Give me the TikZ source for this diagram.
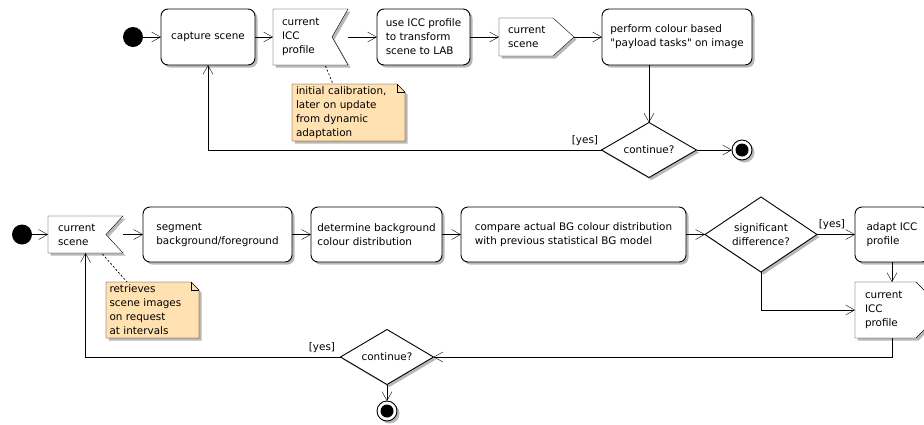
\documentclass[tikz,border=0pt]{standalone}
\usepackage{fontspec}
\setmainfont{DejaVu Sans}[Ligatures=TeXOff]
\usetikzlibrary{arrows.meta,calc,shadows,shapes.geometric}
\definecolor{notefill}{HTML}{FFE1B2}
\pgfdeclarelayer{background}
\pgfsetlayers{background,main}
\begin{document}
\begin{tikzpicture}[x=1pt,y=-1pt,
  font=\fontsize{10.4}{14}\selectfont,
  line width=0.9pt,
  every node/.style={inner sep=0pt, outer sep=0pt, align=left},
  shad/.style={drop shadow={shadow xshift=2.5pt, shadow yshift=-2.5pt, fill=black!28, opacity=1}},
  act/.style={draw=black, rounded corners=7pt, fill=white, shad},
  frame/.style={draw=none, rectangle},
  poly/.style={draw=black, fill=white, shad, line join=miter},
  notepoly/.style={draw=black, fill=notefill, shad, line join=miter},
  dec/.style={diamond, aspect=1.5, draw=black, fill=white, shad, align=center},
  startdot/.style={circle, fill=black, minimum size=20pt},
  enddot/.style={circle, draw=black, fill=white, minimum size=20pt, shad,
    path picture={\fill[black] (path picture bounding box.center) circle (6.5pt);}},
  flow/.style={-{Straight Barb[length=9pt,width=10pt]}},
  notelink/.style={dash pattern=on 2pt off 2pt, line width=0.7pt},
  guard/.style={font=\fontsize{10.4}{14}\selectfont}
]
\useasboundingbox (0,0) rectangle (924,424);

% ---------- top activity ----------
\node[startdot] (start1) at (133,37) {};
\node[act, minimum width=94pt, minimum height=56pt] (capture) at (208,37) {capture scene};
\node[frame, minimum width=75pt, minimum height=56pt, text width=57pt] (icc1) at (310.5,37) {current\\ICC\\profile};
\node[act, minimum width=93pt, minimum height=56pt] (use) at (423.5,37) {use ICC profile\\to transform\\scene to LAB};
\node[frame, minimum width=75pt, minimum height=38pt, text width=57pt] (scene1) at (536.5,37) {current\\scene};
\node[act, minimum width=150pt, minimum height=56pt] (perform) at (677,37) {perform colour based\\"payload tasks" on image};
\node[dec, minimum width=95pt, minimum height=55pt] (cont1) at (649,150) {continue?};
\node[enddot] (end1) at (742,150) {};
\node[frame, minimum width=113pt, minimum height=57pt, text width=105pt] (note1) at (348.5,112.5) {initial calibration,\\later on update\\from dynamic\\adaptation};
\node[guard, anchor=base east] (yes1) at (598,143) {[yes]};

% ---------- bottom activity ----------
\node[startdot] (start2) at (22,234.5) {};
\node[frame, minimum width=75pt, minimum height=37pt, text width=55pt] (scene2) at (85.5,234.5) {current\\scene};
\node[act, minimum width=149pt, minimum height=55pt] (segment) at (217.5,234.5) {segment\\background/foreground};
\node[act, minimum width=131pt, minimum height=55pt] (determine) at (376.5,234.5) {determine background\\colour distribution};
\node[act, minimum width=225pt, minimum height=55pt] (compare) at (573.5,234.5) {compare actual BG colour distribution\\with previous statistical BG model};
\node[dec, minimum width=112pt, minimum height=75pt] (signif) at (761,234.5) {significant\\difference?};
\node[act, minimum width=74pt, minimum height=55pt] (adapt) at (892,234.5) {adapt ICC\\profile};
\node[frame, minimum width=89pt, minimum height=56pt, text width=69pt] (icc2) at (899.5,310) {current\\ICC\\profile};
\node[dec, minimum width=93pt, minimum height=55pt] (cont2) at (387,357) {continue?};
\node[enddot] (end2) at (387,411) {};
\node[frame, minimum width=93pt, minimum height=56pt, text width=86pt] (note2) at (152.5,310) {retrieves\\scene images\\on request\\at intervals};
\node[guard, anchor=base east] (yes2) at (335,350) {[yes]};
\node[guard, anchor=base east] (yes3) at (845,227) {[yes]};

% ---------- object and note outlines ----------
\begin{pgfonlayer}{background}
  \draw[poly] (icc1.north west) -- (icc1.north east) -- ($(icc1.east)+(-16,0)$) -- (icc1.south east) -- (icc1.south west) -- cycle;
  \draw[poly] (scene1.north west) -- ($(scene1.north east)+(-21,0)$) -- (scene1.east) -- ($(scene1.south east)+(-21,0)$) -- (scene1.south west) -- cycle;
  \draw[poly] (scene2.north west) -- (scene2.north east) -- ($(scene2.east)+(-17,0)$) -- (scene2.south east) -- (scene2.south west) -- cycle;
  \draw[poly] (icc2.north west) -- ($(icc2.north east)+(-28,0)$) -- (icc2.east) -- ($(icc2.south east)+(-28,0)$) -- (icc2.south west) -- cycle;
  \draw[notepoly] (note1.north west) -- ($(note1.north east)+(-8,0)$) -- ($(note1.north east)+(0,8)$) -- (note1.south east) -- (note1.south west) -- cycle;
  \draw[line width=0.7pt] ($(note1.north east)+(-8,0)$) -- ($(note1.north east)+(-8,8)$) -- ($(note1.north east)+(0,8)$);
  \draw[notepoly] (note2.north west) -- ($(note2.north east)+(-8,0)$) -- ($(note2.north east)+(0,8)$) -- (note2.south east) -- (note2.south west) -- cycle;
  \draw[line width=0.7pt] ($(note2.north east)+(-8,0)$) -- ($(note2.north east)+(-8,8)$) -- ($(note2.north east)+(0,8)$);
\end{pgfonlayer}

% ---------- connectors: top ----------
\draw[flow] (start1) -- (capture.west);
\draw[flow] (capture.east) -- (icc1.west);
\draw[flow] (icc1.east) -- (use.west);
\draw[flow] (use.east) -- (scene1.west);
\draw[flow] (scene1.east) -- (perform.west);
\draw[flow] (perform.south -| cont1.north) -- (cont1.north);
\draw[flow] (cont1.east) -- (end1.west);
\draw[flow] (cont1.west) -| (capture.south);
\draw[notelink] ($(icc1.south)+(15,1)$) -- ($(note1.north west)+(41,0)$);

% ---------- connectors: bottom ----------
\draw[flow] (start2) -- (scene2.west);
\draw[flow] (scene2.east) -- (segment.west);
\draw[flow] (segment.east) -- (determine.west);
\draw[flow] (determine.east) -- (compare.west);
\draw[flow] (compare.east) -- (signif.west);
\draw[flow] (signif.east) -- (adapt.west);
\draw[flow] (adapt.south) -- (adapt.south |- icc2.north);
\draw[flow] (signif.south) |- (icc2.west);
\draw[flow] (adapt.south |- icc2.south) |- (cont2.east);
\draw[flow] (cont2.west) -| (scene2.south);
\draw[flow] (cont2.south) -- (end2.north);
\draw[notelink] ($(scene2.south)+(17,1)$) -- ($(note2.north west)+(21,0)$);
\end{tikzpicture}
\end{document}
